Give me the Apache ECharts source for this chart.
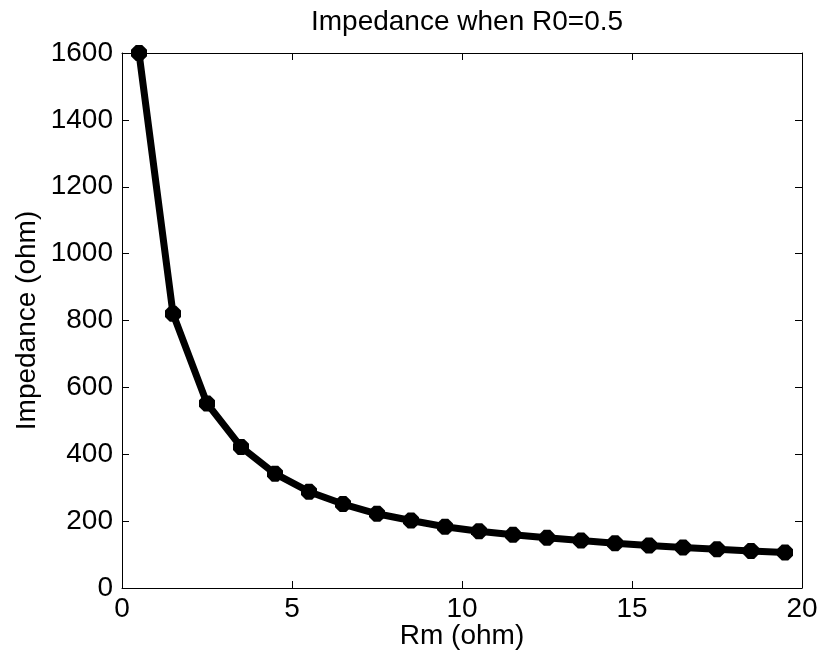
<!DOCTYPE html>
<html>
<head>
<meta charset="utf-8">
<script src="https://cdn.jsdelivr.net/npm/echarts@6/dist/echarts.min.js"></script>
<style>html,body{margin:0;padding:0;background:#fff}#c{width:818px;height:656px}</style>
</head>
<body>
<div id="c"></div>
<script>
const rmValues = [0.5, 1.5, 2.5, 3.5, 4.5, 5.5, 6.5, 7.5, 8.5, 9.5, 10.5, 11.5, 12.5, 13.5, 14.5, 15.5, 16.5, 17.5, 18.5, 19.5];
const impedanceValues = [1600, 820, 552, 422, 342, 288, 251, 222, 202, 183, 170, 159, 150, 142, 134, 127, 121, 116, 111, 106];
const xTicks = [0, 5, 10, 15, 20];
const yTicks = [0, 200, 400, 600, 800, 1000, 1200, 1400, 1600];
const titleText = 'Impedance when R0=0.5';
const xName = 'Rm (ohm)';
const yName = 'Impedance (ohm)';

const FONT = 'Liberation Sans, Arial, sans-serif';
const FS = 28;
const chart = echarts.init(document.getElementById('c'), null, {renderer: 'canvas'});
const axisLine = {show: true, onZero: false, lineStyle: {color: '#000', width: 1}};
const tick = {show: true, inside: true, length: 7, lineStyle: {color: '#000', width: 1}};
chart.setOption({
  animation: false,
  backgroundColor: '#fff',
  title: {
    text: titleText, left: 462, top: 3, textAlign: 'center',
    textStyle: {fontFamily: FONT, fontSize: FS, fontWeight: 'normal', color: '#000'}
  },
  grid: {left: 122, top: 53, width: 680, height: 535, containLabel: false, outerBoundsMode: 'none'},
  xAxis: [{
    type: 'value', min: xTicks[0], max: xTicks[xTicks.length - 1], interval: 5,
    position: 'bottom', axisLine, axisTick: tick, splitLine: {show: false},
    axisLabel: {color: '#000', fontFamily: FONT, fontSize: FS, margin: 7, formatter: v => String(v)},
    name: xName, nameLocation: 'middle', nameGap: 34, nameMoveOverlap: false,
    nameTextStyle: {color: '#000', fontFamily: FONT, fontSize: FS}
  }, {
    type: 'value', min: 0, max: 20, interval: 5, position: 'top',
    axisLine, axisTick: tick, axisLabel: {show: false}, splitLine: {show: false}
  }],
  yAxis: [{
    type: 'value', min: yTicks[0], max: yTicks[yTicks.length - 1], interval: 200,
    position: 'left', axisLine, axisTick: tick, splitLine: {show: false},
    axisLabel: {color: '#000', fontFamily: FONT, fontSize: FS, margin: 9, formatter: v => String(v)},
    name: yName, nameLocation: 'middle', nameGap: 81, nameMoveOverlap: false,
    nameTextStyle: {color: '#000', fontFamily: FONT, fontSize: FS}
  }, {
    type: 'value', min: 0, max: 1600, interval: 200, position: 'right',
    axisLine, axisTick: tick, axisLabel: {show: false}, splitLine: {show: false}
  }],
  series: [{
    type: 'line',
    data: rmValues.map((x, i) => [x, impedanceValues[i]]),
    lineStyle: {color: '#000', width: 7},
    itemStyle: {color: '#000'},
    symbol: 'path://M3,0 L7,0 L10,3 L10,7 L7,10 L3,10 L0,7 L0,3 Z',
    symbolSize: 16, showSymbol: true,
    clip: false
  }]
});
</script>
</body>
</html>
